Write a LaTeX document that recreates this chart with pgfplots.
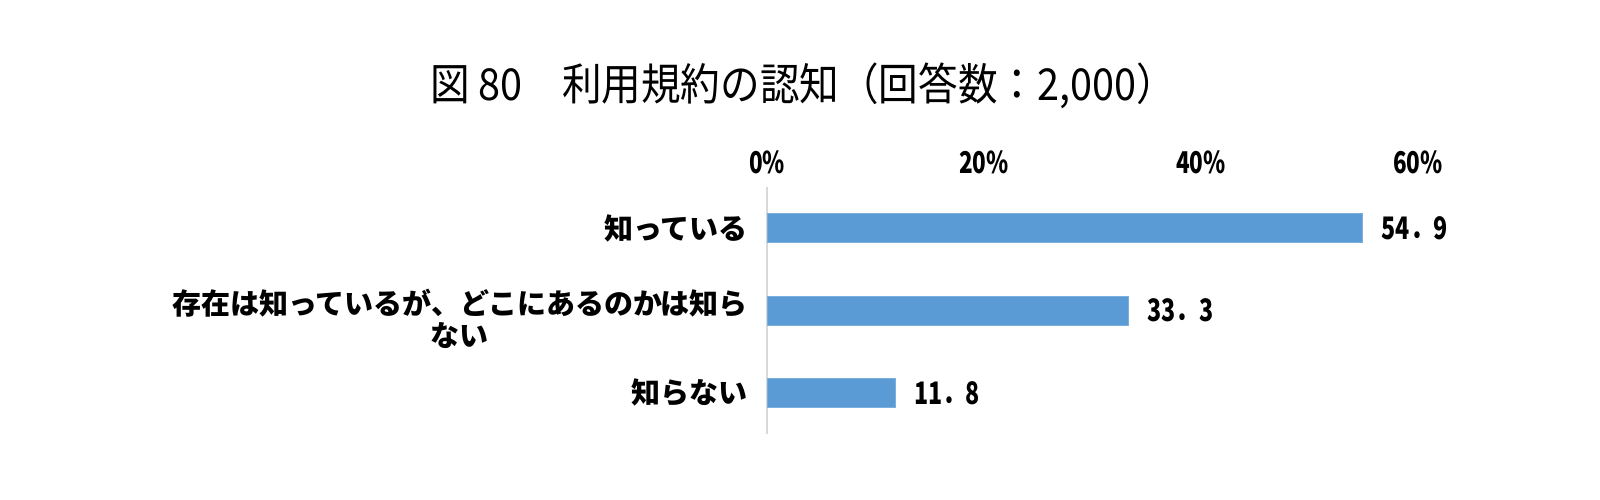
\documentclass[border=0pt]{standalone}
\usepackage{fontspec}
\setmainfont{Noto Sans CJK JP}
\newfontfamily\numfont[FakeStretch=0.75]{Noto Sans CJK JP}
\newfontfamily\titlefont[FakeStretch=0.9]{Noto Sans CJK JP}
\usepackage{pgfplots}
\pgfplotsset{compat=1.18}
\definecolor{barblue}{HTML}{5B9BD5}
\definecolor{axisgray}{HTML}{D9D9D9}
\begin{document}
\begin{tikzpicture}
\path[use as bounding box] (0,0) rectangle (800bp,250bp);
\node[font=\titlefont\fontsize{22bp}{24bp}\selectfont] at (401.5bp,207bp) {図 80　利用規約の認知（回答数：2,000）};
\begin{axis}[
  at={(383.5bp,33bp)}, anchor=south west,
  scale only axis, width=325.5bp, height=123.5bp,
  xbar, bar width=14.5bp,
  xmin=0, xmax=60, ymin=-0.5, ymax=2.5, y dir=reverse,
  xtick={0,20,40,60}, xticklabels={0\%,20\%,40\%,60\%},
  xticklabel pos=upper,
  ytick={0,2},
  yticklabels={知っている, 知らない},
  extra y ticks={1},
  extra y tick labels={{存在は知っているが、どこにあるのかは知ら\\ない}},
  extra y tick style={yticklabel style={yshift=-4bp}},
  major tick length=0pt,
  axis line style={draw=none},
  clip=false,
  x tick label style={font=\numfont\bfseries\fontsize{15bp}{16bp}\selectfont, yshift=3bp},
  y tick label style={font=\bfseries\fontsize{14.5bp}{16bp}\selectfont, align=center, xshift=-6bp},
  nodes near coords,
  nodes near coords style={font=\numfont\bfseries\fontsize{15.5bp}{16bp}\selectfont, anchor=west, xshift=6bp,
    /pgf/number format/.cd, assume math mode=true, fixed, precision=1, fixed zerofill, set decimal separator={．}},
]
\draw[color=axisgray, line width=0.9bp] (axis cs:0,-0.5) -- (axis cs:0,2.5);
\addplot[fill=barblue, draw=barblue!80!white, line width=0.5bp] coordinates {(54.9,0) (33.3,1) (11.8,2)};
\end{axis}
\end{tikzpicture}
\end{document}
